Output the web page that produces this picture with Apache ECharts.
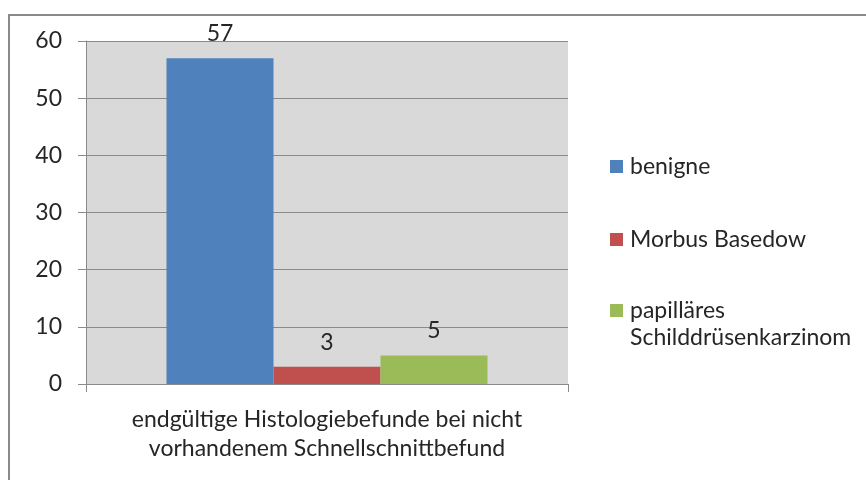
<!DOCTYPE html>
<html><head><meta charset="utf-8">
<script src="https://cdn.jsdelivr.net/npm/echarts@6/dist/echarts.min.js"></script>
<style>html,body{margin:0;padding:0;background:#fff}#c{width:866px;height:480px}</style>
</head><body><div id="c"></div>
<script>
const categories = ['endgültige Histologiebefunde bei nicht\nvorhandenem Schnellschnittbefund'];
const seriesNames = ['benigne', 'Morbus Basedow', 'papilläres Schilddrüsenkarzinom'];
const benigne = [57];
const morbusBasedow = [3];
const papillaeres = [5];
const yTicks = [0, 10, 20, 30, 40, 50, 60];

const colors = ['#4f81bd', '#c0504d', '#9bbb59'];
const values = [benigne, morbusBasedow, papillaeres];
const font = 'Lato, "Open Sans", sans-serif';
const textColor = '#262626';
const fs = 23;

const chart = echarts.init(document.getElementById('c'));
const legendTops = [155, 228, 299];
chart.setOption({
  animation: false,
  textStyle: { fontFamily: font },
  graphic: [
    { type: 'rect', shape: { x: 9, y: 15, width: 900, height: 500 }, style: { fill: 'none', stroke: '#8a8a8a', lineWidth: 2 }, silent: true },
    { type: 'text', left: 630, top: 326, style: { text: 'Schilddrüsenkarzinom', font: fs + 'px ' + font, fill: textColor } }
  ],
  grid: { left: 86, right: 298, top: 41, bottom: 96, show: true, backgroundColor: '#d9d9d9', borderWidth: 0 },
  legend: seriesNames.map((n, i) => ({
    data: [n], left: 610, top: legendTops[i], itemWidth: 13, itemHeight: 13, icon: 'rect', itemGap: 0, padding: 0,
    formatter: (name) => i === 2 ? 'papilläres' : name,
    textStyle: { fontSize: fs, color: textColor, fontFamily: font, padding: [0, 0, 0, 2] }
  })),
  xAxis: {
    type: 'category', data: categories,
    axisLine: { lineStyle: { color: '#8a8a8a', width: 1 } },
    axisTick: { show: true, length: 8, lineStyle: { color: '#8a8a8a' } },
    axisLabel: { fontSize: fs, color: textColor, margin: 21, lineHeight: 29, fontFamily: font }
  },
  yAxis: {
    type: 'value', min: 0, max: 60, interval: 10,
    axisLine: { show: true, lineStyle: { color: '#8a8a8a' } },
    axisTick: { show: true, length: 8, lineStyle: { color: '#8a8a8a' } },
    splitLine: { show: true, lineStyle: { color: '#8a8a8a', width: 1 } },
    axisLabel: { fontSize: fs, color: textColor, margin: 24, fontFamily: font,
      formatter: v => yTicks.includes(v) ? String(v) : '' }
  },
  series: seriesNames.map((n, i) => ({
    name: n, type: 'bar', data: values[i],
    barGap: '0%', barCategoryGap: '33.4%',
    itemStyle: { color: colors[i] },
    label: { show: true, position: 'top', distance: 13, fontSize: fs, color: textColor, fontFamily: font }
  }))
});
</script></body></html>
